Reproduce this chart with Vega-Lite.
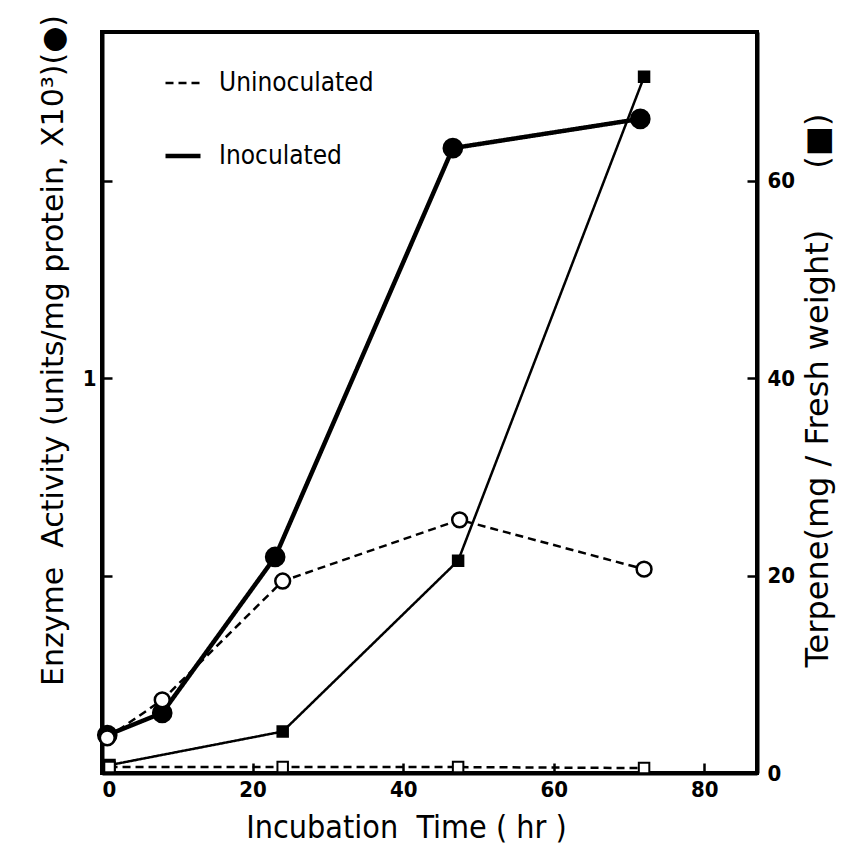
{
  "$schema": "https://vega.github.io/schema/vega-lite/v6.json",
  "width": 655,
  "height": 741,
  "autosize": {"type": "none"},
  "padding": {"left": 102, "top": 32, "right": 86, "bottom": 80},
  "background": "white",
  "config": {
    "view": {"stroke": "black", "strokeWidth": 4},
    "font": "DejaVu Sans Condensed",
    "axis": {
      "grid": false,
      "domainColor": "black",
      "domainWidth": 4,
      "tickColor": "black",
      "tickWidth": 2.5,
      "tickSize": -10,
      "labelFont": "DejaVu Sans Condensed",
      "labelFontWeight": "bold",
      "labelFontSize": 22,
      "labelColor": "black",
      "titleFont": "DejaVu Sans",
      "titleFontWeight": "normal",
      "titleColor": "black"
    },
    "legend": {
      "labelFont": "DejaVu Sans Condensed",
      "labelFontSize": 26,
      "labelColor": "black"
    }
  },
  "data": {
    "values": [
      {"measure": "enzyme", "status": "Inoculated", "time": 0.7, "value": 0.096},
      {"measure": "enzyme", "status": "Inoculated", "time": 8, "value": 0.152},
      {"measure": "enzyme", "status": "Inoculated", "time": 23, "value": 0.547},
      {"measure": "enzyme", "status": "Inoculated", "time": 46.6, "value": 1.582},
      {"measure": "enzyme", "status": "Inoculated", "time": 71.5, "value": 1.656},
      {"measure": "enzyme", "status": "Uninoculated", "time": 0.7, "value": 0.089},
      {"measure": "enzyme", "status": "Uninoculated", "time": 8, "value": 0.185},
      {"measure": "enzyme", "status": "Uninoculated", "time": 24, "value": 0.486},
      {"measure": "enzyme", "status": "Uninoculated", "time": 47.5, "value": 0.641},
      {"measure": "enzyme", "status": "Uninoculated", "time": 72, "value": 0.516},
      {"measure": "terpene", "status": "Inoculated", "time": 1, "value": 0.8},
      {"measure": "terpene", "status": "Inoculated", "time": 24, "value": 4.2},
      {"measure": "terpene", "status": "Inoculated", "time": 47.3, "value": 21.5},
      {"measure": "terpene", "status": "Inoculated", "time": 72, "value": 70.5},
      {"measure": "terpene", "status": "Uninoculated", "time": 1, "value": 0.6},
      {"measure": "terpene", "status": "Uninoculated", "time": 24, "value": 0.6},
      {"measure": "terpene", "status": "Uninoculated", "time": 47.3, "value": 0.6},
      {"measure": "terpene", "status": "Uninoculated", "time": 72, "value": 0.5}
    ]
  },
  "encoding": {
    "x": {
      "field": "time",
      "type": "quantitative",
      "scale": {"domain": [0, 87], "nice": false},
      "axis": {
        "values": [0, 20, 40, 60, 80],
        "labelPadding": 16,
        "title": "Incubation\u00a0\u00a0Time ( hr )",
        "titleFont": "DejaVu Sans Condensed",
        "titleFontSize": 32,
        "titlePadding": 12,
        "titleX": 304
      }
    }
  },
  "layer": [
    {
      "transform": [{"filter": "datum.measure == 'enzyme'"}],
      "encoding": {
        "y": {
          "field": "value",
          "type": "quantitative",
          "scale": {"domain": [0, 1.876], "nice": false},
          "axis": {
            "orient": "left",
            "values": [0.5, 1, 1.5],
            "labelExpr": "datum.value == 1 ? '1' : ''",
            "labelPadding": 16,
            "title": "Enzyme\u00a0\u00a0Activity (units/mg protein, X10³)(●)",
            "titleFontSize": 30,
            "titlePadding": 14,
            "titleY": 318
          }
        }
      },
      "layer": [
        {
          "mark": {"type": "line", "color": "black"},
          "encoding": {
            "strokeDash": {
              "field": "status",
              "type": "nominal",
              "scale": {"domain": ["Uninoculated", "Inoculated"], "range": [[8, 5], [1, 0]]},
              "legend": {
                "title": null,
                "orient": "none",
                "legendX": 61,
                "legendY": 32,
                "direction": "vertical",
                "padding": 0,
                "symbolType": "stroke",
                "symbolSize": 1225,
                "symbolStrokeWidth": 3,
                "symbolStrokeColor": "black",
                "rowPadding": 40,
                "labelOffset": 16
              }
            },
            "strokeWidth": {
              "field": "status",
              "type": "nominal",
              "scale": {"domain": ["Uninoculated", "Inoculated"], "range": [2.5, 4.5]},
              "legend": null
            }
          }
        },
        {
          "mark": {"type": "point", "shape": "circle", "filled": true, "stroke": "black", "strokeWidth": 2.5, "opacity": 1},
          "encoding": {
            "fill": {
              "field": "status",
              "type": "nominal",
              "scale": {"domain": ["Inoculated", "Uninoculated"], "range": ["black", "white"]},
              "legend": null
            },
            "size": {
              "field": "status",
              "type": "nominal",
              "scale": {"domain": ["Inoculated", "Uninoculated"], "range": [330, 220]},
              "legend": null
            }
          }
        }
      ]
    },
    {
      "transform": [{"filter": "datum.measure == 'terpene'"}],
      "encoding": {
        "y": {
          "field": "value",
          "type": "quantitative",
          "scale": {"domain": [0, 75.04], "nice": false},
          "axis": {
            "orient": "right",
            "values": [0, 20, 40, 60],
            "labelPadding": 20,
            "title": "Terpene(mg / Fresh weight)\u00a0\u00a0\u00a0\u00a0\u00a0\u00a0(■)",
            "titleFontSize": 32,
            "titleAngle": 270,
            "titleBaseline": "top",
            "titlePadding": 8,
            "titleY": 358
          }
        }
      },
      "layer": [
        {
          "mark": {"type": "line", "color": "black", "strokeWidth": 2.5},
          "encoding": {
            "strokeDash": {"field": "status", "type": "nominal"}
          }
        },
        {
          "mark": {"type": "point", "shape": "square", "filled": true, "stroke": "black", "strokeWidth": 2, "size": 110, "opacity": 1},
          "encoding": {
            "fill": {"field": "status", "type": "nominal", "legend": null}
          }
        }
      ]
    }
  ],
  "resolve": {"scale": {"y": "independent"}}
}
